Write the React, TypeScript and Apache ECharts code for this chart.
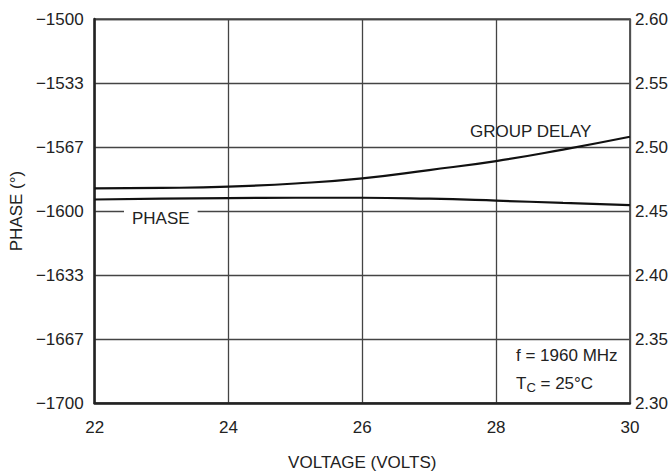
import React, { useEffect, useRef } from "react";
import * as echarts from "echarts";

const voltages = [22, 23, 24, 25, 26, 27, 28, 29, 30];
const phase = [-1594.0, -1593.6, -1593.3, -1593.1, -1593.1, -1593.6, -1594.6, -1595.8, -1596.9];
const groupDelay = [2.4677, 2.468, 2.469, 2.4715, 2.4755, 2.482, 2.489, 2.498, 2.508];
const phaseTicks = { min: -1700, max: -1500, step: 100 / 3 };
const delayTicks = { min: 2.3, max: 2.6, step: 0.05 };
const xTicks = { min: 22, max: 30, step: 2 };

const FONT = "'Liberation Sans', Arial, Helvetica, sans-serif";
const FS = 17;

export default function App() {
  const ref = useRef<HTMLDivElement>(null);
  useEffect(() => {
    if (!ref.current) return;
    const chart = echarts.init(ref.current, undefined, { renderer: "svg" });
    const textStyle = { fontFamily: FONT, fontSize: FS, color: "#222" };
    chart.setOption({
      animation: false,
      backgroundColor: "#fff",
      textStyle,
      grid: {
        left: 93,
        right: 29,
        top: 19,
        bottom: 73,
        show: true,
        borderColor: "#555",
        borderWidth: 1.5,
      },
      xAxis: {
        type: "value",
        min: xTicks.min,
        max: xTicks.max,
        interval: xTicks.step,
        name: "VOLTAGE (VOLTS)",
        nameLocation: "middle",
        nameGap: 51,
        nameTextStyle: { ...textStyle },
        axisLine: { show: true, lineStyle: { color: "#222", width: 2.5 } },
        axisTick: { show: false },
        axisLabel: { ...textStyle, margin: 16 },
        splitLine: { show: true, lineStyle: { color: "#444", width: 1.3 } },
      },
      yAxis: [
        {
          type: "value",
          position: "left",
          min: phaseTicks.min,
          max: phaseTicks.max,
          interval: phaseTicks.step,
          name: "PHASE (°)",
          nameLocation: "middle",
          nameGap: 67,
          nameRotate: 90,
          nameTextStyle: { ...textStyle },
          axisLine: { show: true, lineStyle: { color: "#222", width: 2.5 } },
          axisTick: { show: false },
          axisLabel: {
            ...textStyle,
            margin: 11,
            formatter: (v: number) => String(Math.round(v)).replace("-", "\u2212"),
          },
          splitLine: { show: true, lineStyle: { color: "#444", width: 1.3 } },
        },
        {
          type: "value",
          position: "right",
          min: delayTicks.min,
          max: delayTicks.max,
          interval: delayTicks.step,
          axisLine: { show: true, lineStyle: { color: "#555", width: 1.5 } },
          axisTick: { show: false },
          axisLabel: {
            ...textStyle,
            margin: 5,
            formatter: (v: number) => v.toFixed(2),
          },
          splitLine: { show: false },
        },
      ],
      series: [
        {
          name: "PHASE",
          type: "line",
          yAxisIndex: 0,
          data: voltages.map((v, i) => [v, phase[i]]),
          smooth: true,
          symbol: "none",
          lineStyle: { color: "#111", width: 2.2 },
        },
        {
          name: "GROUP DELAY",
          type: "line",
          yAxisIndex: 1,
          data: voltages.map((v, i) => [v, groupDelay[i]]),
          smooth: true,
          symbol: "none",
          lineStyle: { color: "#111", width: 2.2 },
        },
      ],
      graphic: [
        {
          type: "text",
          left: 124,
          top: 210,
          z: 100,
          style: {
            text: "PHASE",
            fontFamily: FONT,
            fontSize: FS,
            fill: "#222",
            backgroundColor: "#fff",
            padding: [0, 8, 0, 8],
          },
        },
        {
          type: "text",
          left: 470,
          top: 123,
          z: 100,
          style: { text: "GROUP DELAY", fontFamily: FONT, fontSize: FS, fill: "#222" },
        },
        {
          type: "text",
          left: 516,
          top: 347,
          z: 100,
          style: { text: "f = 1960 MHz", fontFamily: FONT, fontSize: FS, fill: "#222" },
        },
        {
          type: "text",
          left: 516,
          top: 375,
          z: 100,
          style: {
            text: "T{sub|C} = 25\u00b0C",
            fontFamily: FONT,
            fontSize: FS,
            fill: "#222",
            rich: {
              sub: { fontFamily: FONT, fontSize: 13, fill: "#222", padding: [7, 0, 0, 0] },
            },
          },
        },
      ],
    });
    return () => chart.dispose();
  }, []);
  return (
    <div
      ref={ref}
      style={{ position: "absolute", left: 0, top: 0, width: 671, height: 476 }}
    />
  );
}
